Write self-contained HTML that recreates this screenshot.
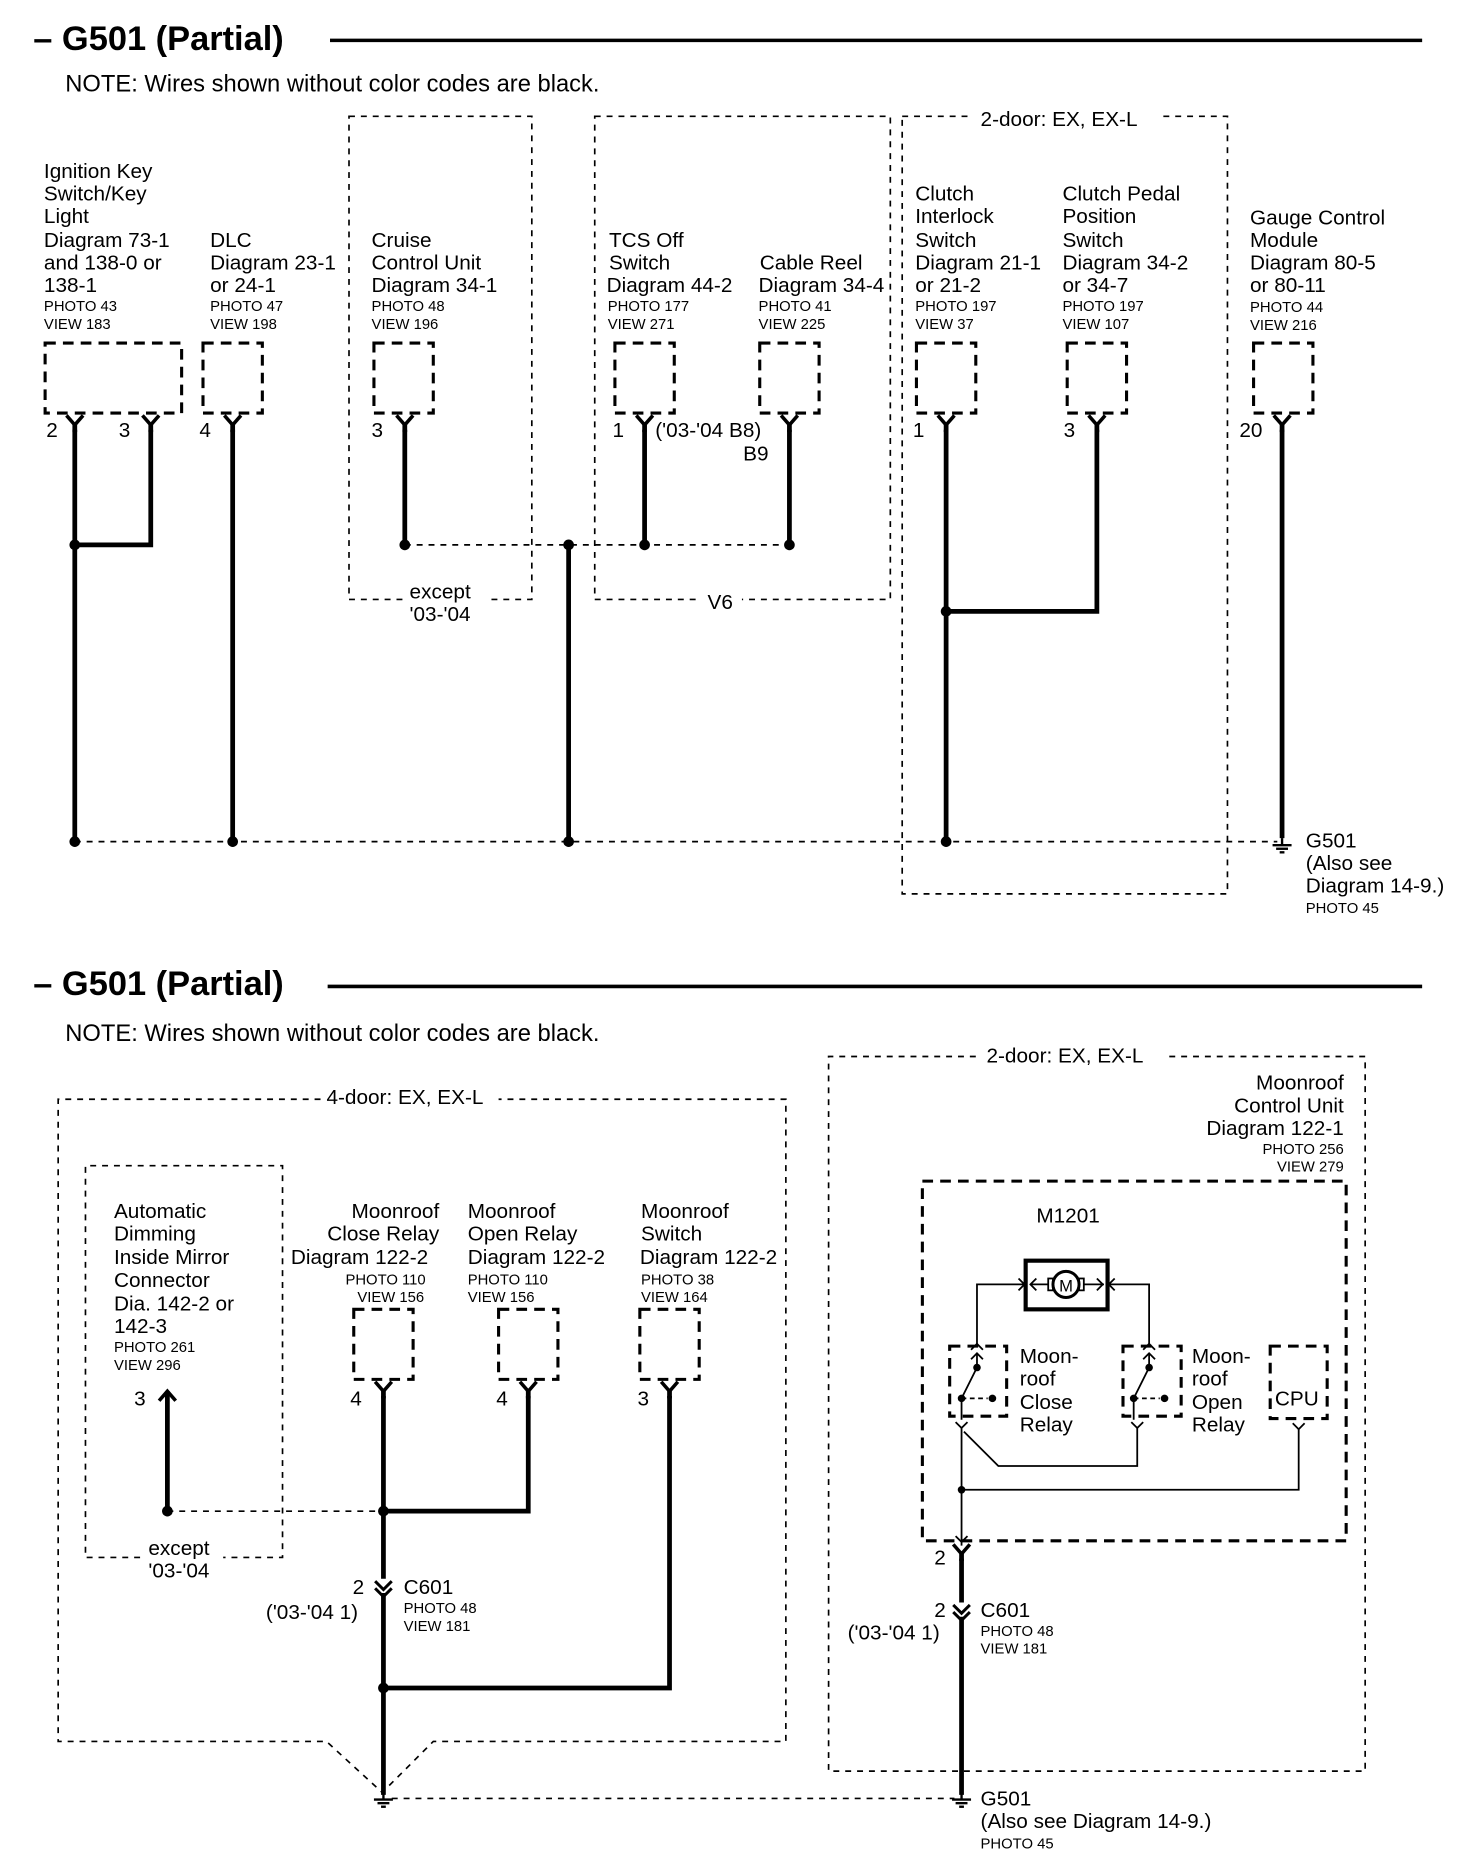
<!DOCTYPE html>
<html><head><meta charset="utf-8"><style>
html,body{margin:0;padding:0;background:#fff;}
svg{display:block}
text{font-family:"Liberation Sans",Arial,sans-serif;fill:#000}
.t{font-size:17.5px}
.s{font-size:12.5px}
.h{font-size:29px;font-weight:bold}
.n{font-size:20px}
.dl{stroke:#000;stroke-width:1.4;fill:none;stroke-dasharray:5,5}
.cn{stroke:#000;stroke-width:2.6;fill:none;stroke-dasharray:9,6}
.w{stroke:#000;stroke-width:4;fill:none}
.tw{stroke:#000;stroke-width:1.5;fill:none}
</style></head><body>
<svg width="1472" height="1870" viewBox="0 0 1240 1575.3" preserveAspectRatio="none" xmlns="http://www.w3.org/2000/svg">
<defs>
<g id="pin"><path d="M-7,-6 L0,2 L7,-6" stroke="#000" stroke-width="3" fill="none"/><line x1="0" y1="0" x2="0" y2="8" stroke="#000" stroke-width="4"/></g>
<g id="gnd"><line x1="0" y1="0" x2="0" y2="6" stroke="#000" stroke-width="2"/><line x1="-8" y1="6" x2="8" y2="6" stroke="#000" stroke-width="2"/><line x1="-5" y1="9" x2="5" y2="9" stroke="#000" stroke-width="2"/><line x1="-2" y1="12" x2="2" y2="12" stroke="#000" stroke-width="2"/></g>
</defs>

<!-- TOP -->
<text x="28" y="42" class="h">– G501 (Partial)</text>
<line x1="278" y1="34" x2="1198" y2="34" stroke="#000" stroke-width="3"/>
<text x="55" y="77" class="n">NOTE: Wires shown without color codes are black.</text>

<rect x="294" y="98" width="154" height="407" class="dl"/>
<rect x="340" y="495" width="70" height="20" fill="#fff"/>
<text x="345" y="504" class="t">except</text><text x="345" y="523" class="t">'03-'04</text>
<rect x="501" y="98" width="249" height="407" class="dl"/>
<rect x="590" y="495" width="35" height="20" fill="#fff"/>
<text x="596" y="513" class="t">V6</text>
<rect x="760" y="98" width="274" height="655" class="dl"/>
<rect x="818" y="90" width="158" height="20" fill="#fff"/>
<text x="826" y="106" class="t">2-door: EX, EX-L</text>

<g class="t">
<text x="37" y="150">Ignition Key</text><text x="37" y="169">Switch/Key</text><text x="37" y="188">Light</text><text x="37" y="208">Diagram  73-1</text><text x="37" y="227">and 138-0 or</text><text x="37" y="246">138-1</text>
<text x="177" y="208">DLC</text><text x="177" y="227">Diagram 23-1</text><text x="177" y="246">or 24-1</text>
<text x="313" y="208">Cruise</text><text x="313" y="227">Control Unit</text><text x="313" y="246">Diagram 34-1</text>
<text x="513" y="208">TCS Off</text><text x="513" y="227">Switch</text><text x="511" y="246">Diagram 44-2</text>
<text x="640" y="227">Cable Reel</text><text x="639" y="246">Diagram 34-4</text>
<text x="771" y="169">Clutch</text><text x="771" y="188">Interlock</text><text x="771" y="208">Switch</text><text x="771" y="227">Diagram 21-1</text><text x="771" y="246">or 21-2</text>
<text x="895" y="169">Clutch Pedal</text><text x="895" y="188">Position</text><text x="895" y="208">Switch</text><text x="895" y="227">Diagram 34-2</text><text x="895" y="246">or 34-7</text>
<text x="1053" y="189">Gauge Control</text><text x="1053" y="208">Module</text><text x="1053" y="227">Diagram 80-5</text><text x="1053" y="246">or 80-11</text>
</g>
<g class="s">
<text x="37" y="262">PHOTO 43</text><text x="37" y="277">VIEW 183</text>
<text x="177" y="262">PHOTO 47</text><text x="177" y="277">VIEW 198</text>
<text x="313" y="262">PHOTO 48</text><text x="313" y="277">VIEW 196</text>
<text x="512" y="262">PHOTO 177</text><text x="512" y="277">VIEW 271</text>
<text x="639" y="262">PHOTO 41</text><text x="639" y="277">VIEW 225</text>
<text x="771" y="262">PHOTO 197</text><text x="771" y="277">VIEW 37</text>
<text x="895" y="262">PHOTO 197</text><text x="895" y="277">VIEW 107</text>
<text x="1053" y="263">PHOTO 44</text><text x="1053" y="278">VIEW 216</text>
</g>

<rect x="38" y="289" width="115" height="59" class="cn"/>
<rect x="171" y="289" width="50" height="59" class="cn"/>
<rect x="315" y="289" width="50" height="59" class="cn"/>
<rect x="518" y="289" width="50" height="59" class="cn"/>
<rect x="640" y="289" width="50" height="59" class="cn"/>
<rect x="772" y="289" width="50" height="59" class="cn"/>
<rect x="899" y="289" width="50" height="59" class="cn"/>
<rect x="1056" y="289" width="50" height="59" class="cn"/>

<g class="t">
<text x="39" y="368">2</text><text x="100" y="368">3</text><text x="168" y="368">4</text><text x="313" y="368">3</text>
<text x="516" y="368">1</text><text x="552" y="368">('03-'04 B8)</text><text x="626" y="388">B9</text>
<text x="769" y="368">1</text><text x="896" y="368">3</text><text x="1044" y="368">20</text>
</g>
<use href="#pin" x="63" y="356"/><use href="#pin" x="127" y="356"/><use href="#pin" x="196" y="356"/><use href="#pin" x="341" y="356"/>
<use href="#pin" x="543" y="356"/><use href="#pin" x="665" y="356"/><use href="#pin" x="797" y="356"/><use href="#pin" x="924" y="356"/><use href="#pin" x="1080" y="356"/>

<path class="w" d="M63,362V709 M127,362V459H63 M196,362V709 M341,362V459 M543,362V459 M665,362V459 M479,459V709 M797,362V709 M924,362V515H797 M1080,362V706"/>
<line x1="341" y1="459" x2="665" y2="459" class="dl"/>
<line x1="63" y1="709" x2="1076" y2="709" class="dl"/>
<g fill="#000"><circle cx="63" cy="459" r="4.5"/><circle cx="341" cy="459" r="4.5"/><circle cx="479" cy="459" r="4.5"/><circle cx="543" cy="459" r="4.5"/><circle cx="665" cy="459" r="4.5"/><circle cx="797" cy="515" r="4.5"/>
<circle cx="63" cy="709" r="4.5"/><circle cx="196" cy="709" r="4.5"/><circle cx="479" cy="709" r="4.5"/><circle cx="797" cy="709" r="4.5"/></g>
<use href="#gnd" x="1080" y="706"/>
<g class="t"><text x="1100" y="714">G501</text><text x="1100" y="733">(Also see</text><text x="1100" y="752">Diagram 14-9.)</text></g>
<text x="1100" y="769" class="s">PHOTO 45</text>

<!-- BOTTOM -->
<text x="28" y="838" class="h">– G501 (Partial)</text>
<line x1="276" y1="831" x2="1198" y2="831" stroke="#000" stroke-width="3"/>
<text x="55" y="877" class="n">NOTE: Wires shown without color codes are black.</text>

<path class="dl" d="M270,926H49V1467H275L322,1510L365,1467H662V926H420"/>
<text x="275" y="930" class="t">4-door: EX, EX-L</text>
<path class="dl" d="M118,1312H72V982H238V1312H188"/>
<text x="125" y="1310" class="t">except</text><text x="125" y="1329" class="t">'03-'04</text>

<path class="dl" d="M822,890H698V1492H1150V890H980"/>
<text x="831" y="895" class="t">2-door: EX, EX-L</text>

<g class="t">
<text x="96" y="1026">Automatic</text><text x="96" y="1045">Dimming</text><text x="96" y="1065">Inside Mirror</text><text x="96" y="1084">Connector</text><text x="96" y="1104">Dia. 142-2 or</text><text x="96" y="1123">142-3</text>
<text x="370" y="1026" text-anchor="end">Moonroof</text><text x="370" y="1045" text-anchor="end">Close Relay</text><text x="245" y="1065">Diagram 122-2</text>
<text x="394" y="1026">Moonroof</text><text x="394" y="1045">Open Relay</text><text x="394" y="1065">Diagram  122-2</text>
<text x="540" y="1026">Moonroof</text><text x="540" y="1045">Switch</text><text x="539" y="1065">Diagram  122-2</text>
<text x="1132" y="918" text-anchor="end">Moonroof</text><text x="1132" y="937" text-anchor="end">Control Unit</text><text x="1132" y="956" text-anchor="end">Diagram 122-1</text>
</g>
<g class="s">
<text x="96" y="1139">PHOTO 261</text><text x="96" y="1154">VIEW 296</text>
<text x="291" y="1082">PHOTO 110</text><text x="301" y="1097">VIEW 156</text>
<text x="394" y="1082">PHOTO 110</text><text x="394" y="1097">VIEW 156</text>
<text x="540" y="1082">PHOTO 38</text><text x="540" y="1097">VIEW 164</text>
<text x="1132" y="972" text-anchor="end">PHOTO 256</text><text x="1132" y="987" text-anchor="end">VIEW 279</text>
</g>

<rect x="298" y="1103" width="50" height="59" class="cn"/>
<rect x="420" y="1103" width="50" height="59" class="cn"/>
<rect x="539" y="1103" width="50" height="59" class="cn"/>
<g class="t"><text x="113" y="1184">3</text><text x="295" y="1184">4</text><text x="418" y="1184">4</text><text x="537" y="1184">3</text></g>
<use href="#pin" x="323" y="1170"/><use href="#pin" x="445" y="1170"/><use href="#pin" x="564" y="1170"/>
<path d="M134,1180L141,1172L148,1180" stroke="#000" stroke-width="3" fill="none"/>
<path class="w" d="M141,1172V1273 M323,1176V1330 M445,1176V1273H323 M323,1342V1512 M564,1176V1422H323"/>
<line x1="141" y1="1273" x2="323" y2="1273" class="dl"/>
<path d="M316,1332L323,1339L330,1332 M316,1338L323,1345L330,1338" stroke="#000" stroke-width="2.5" fill="none"/>
<text x="297" y="1343" class="t">2</text><text x="340" y="1343" class="t">C601</text>
<text x="224" y="1364" class="t">('03-'04 1)</text>
<text x="340" y="1359" class="s">PHOTO 48</text><text x="340" y="1374" class="s">VIEW 181</text>
<g fill="#000"><circle cx="141" cy="1273" r="4.5"/><circle cx="323" cy="1273" r="4.5"/><circle cx="323" cy="1422" r="4.5"/></g>
<use href="#gnd" x="323" y="1510"/>
<line x1="330" y1="1515" x2="804" y2="1515" class="dl"/>

<!-- Moonroof unit -->
<rect x="777" y="995" width="357" height="303" class="cn"/>
<text x="873" y="1030" class="t">M1201</text>
<rect x="864" y="1062" width="69" height="41" stroke="#000" stroke-width="3.5" fill="none"/>
<circle cx="898" cy="1082" r="11" stroke="#000" stroke-width="2.5" fill="#fff"/>
<text x="898" y="1088" text-anchor="middle" style="font-size:14px">M</text>
<rect x="883" y="1077" width="4" height="10" stroke="#000" stroke-width="1.5" fill="none"/><rect x="909" y="1077" width="4" height="10" stroke="#000" stroke-width="1.5" fill="none"/>
<path class="tw" d="M868,1082H883 M913,1082H930 M864,1082H823V1133 M933,1082H968V1133"/>
<path class="tw" d="M873,1077L868,1082L873,1087 M858,1077L863,1082L858,1087 M924,1077L929,1082L924,1087 M939,1077L934,1082L939,1087"/>
<path class="tw" d="M818,1137L823,1132L828,1137 M818,1145L823,1140L828,1145 M963,1137L968,1132L973,1137 M963,1145L968,1140L973,1145"/>
<rect x="800" y="1134" width="48" height="59" class="cn"/>
<rect x="946" y="1134" width="49" height="59" class="cn"/>
<rect x="1070" y="1134" width="48" height="61" class="cn"/>
<path class="tw" d="M823,1140V1152 M823,1152L810,1178 M810,1178V1196 M968,1140V1152 M968,1152L955,1178 M955,1178V1196"/>
<path d="M810,1178H832" stroke="#000" stroke-width="1.5" stroke-dasharray="4,3"/><path d="M955,1178H977" stroke="#000" stroke-width="1.5" stroke-dasharray="4,3"/>
<g fill="#000"><circle cx="823" cy="1152" r="3.2"/><circle cx="810" cy="1178" r="3.2"/><circle cx="836" cy="1178" r="3.2"/><circle cx="968" cy="1152" r="3.2"/><circle cx="955" cy="1178" r="3.2"/><circle cx="981" cy="1178" r="3.2"/></g>
<path class="tw" d="M805,1198L810,1203L815,1198 M953,1198L958,1203L963,1198 M1089,1199L1094,1204L1099,1199"/>
<g class="t"><text x="859" y="1148">Moon-</text><text x="859" y="1167">roof</text><text x="859" y="1187">Close</text><text x="859" y="1206">Relay</text>
<text x="1004" y="1148">Moon-</text><text x="1004" y="1167">roof</text><text x="1004" y="1187">Open</text><text x="1004" y="1206">Relay</text>
<text x="1074" y="1184">CPU</text></g>
<path class="tw" d="M810,1203V1302 M812,1206L841,1235H958V1203 M810,1255H1094V1204"/>
<circle cx="810" cy="1255" r="3.2" fill="#000"/>
<path class="tw" d="M805,1294L810,1299L815,1294"/>
<use href="#pin" x="810" y="1307"/>
<text x="787" y="1318" class="t">2</text>
<path class="w" d="M810,1313V1350 M810,1362V1512"/>
<path d="M803,1352L810,1359L817,1352 M803,1358L810,1365L817,1358" stroke="#000" stroke-width="2.5" fill="none"/>
<text x="787" y="1362" class="t">2</text><text x="826" y="1362" class="t">C601</text>
<text x="714" y="1381" class="t">('03-'04 1)</text>
<text x="826" y="1378" class="s">PHOTO 48</text><text x="826" y="1393" class="s">VIEW 181</text>
<use href="#gnd" x="810" y="1510"/>
<g class="t"><text x="826" y="1521">G501</text><text x="826" y="1540">(Also see  Diagram 14-9.)</text></g>
<text x="826" y="1557" class="s">PHOTO 45</text>
</svg>
</body></html>
